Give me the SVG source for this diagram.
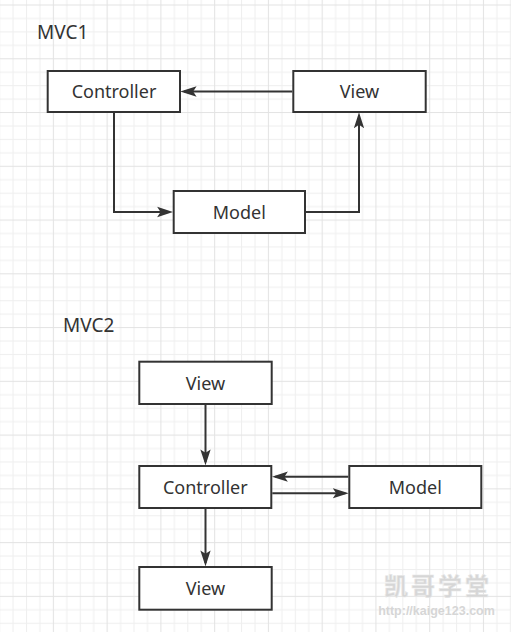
<svg xmlns="http://www.w3.org/2000/svg" width="511" height="632" viewBox="0 0 511 632">
  <defs>
    <pattern id="grid" patternUnits="userSpaceOnUse" x="-0.9" y="4.5" width="53.76" height="53.76">
      <rect x="0" y="0" width="53.76" height="53.76" fill="#ffffff"/>
      <g fill="#efefef">
        <rect x="13.44" y="0" width="1" height="53.76"/>
        <rect x="26.88" y="0" width="1" height="53.76"/>
        <rect x="40.32" y="0" width="1" height="53.76"/>
        <rect x="0" y="13.44" width="53.76" height="1"/>
        <rect x="0" y="26.88" width="53.76" height="1"/>
        <rect x="0" y="40.32" width="53.76" height="1"/>
      </g>
      <g fill="#e3e3e3">
        <rect x="0" y="0" width="1" height="53.76"/>
        <rect x="0" y="0" width="53.76" height="1"/>
      </g>
    </pattern>
    <marker id="arrow" markerUnits="userSpaceOnUse" markerWidth="16" markerHeight="12" viewBox="0 0 14 10" refX="11" refY="5" orient="auto">
      <path d="M0,0.5 L14,5 L0,9.5 L3,5 Z" fill="#333333"/>
    </marker>
    <style>
      .node rect { fill: #ffffff; stroke: #333333; stroke-width: 2; }
      .node text { font-family: "Noto Sans", "Open Sans", "Liberation Sans", sans-serif; font-size: 18px; fill: #333333; text-anchor: middle; }
      .title { font-family: "Noto Sans", "Open Sans", "Liberation Sans", sans-serif; font-size: 19px; fill: #333333; }
      .edge { fill: none; stroke: #333333; stroke-width: 2; marker-end: url(#arrow); }
    </style>
  </defs>

  <rect x="0" y="0" width="511" height="632" fill="url(#grid)"/>

  <text class="title" x="37" y="39">MVC1</text>
  <text class="title" x="63" y="332">MVC2</text>

  <g id="connectors">
    <!-- MVC1 -->
    <path class="edge" d="M292.3,91.5 L184,91.5"/>
    <path class="edge" d="M114,112.7 L114,212 L169.7,212"/>
    <path class="edge" d="M306,212 L359,212 L359,115.7"/>
    <!-- MVC2 -->
    <path class="edge" d="M205.5,405 L205.5,462"/>
    <path class="edge" d="M205.5,509 L205.5,563"/>
    <path class="edge" d="M348.3,476.7 L275.3,476.7"/>
    <path class="edge" d="M272.3,493.3 L345.3,493.3"/>
  </g>

  <g id="mvc1-controller" class="node">
    <rect x="47.7" y="71" width="132.3" height="41"/>
    <text x="114" y="98.3">Controller</text>
  </g>
  <g id="mvc1-view" class="node">
    <rect x="293.3" y="71" width="132.4" height="41"/>
    <text x="359.5" y="98.3">View</text>
  </g>
  <g id="mvc1-model" class="node">
    <rect x="173.7" y="191" width="131.3" height="42"/>
    <text x="239.3" y="218.5">Model</text>
  </g>

  <g id="mvc2-view-top" class="node">
    <rect x="139.3" y="361.7" width="132.4" height="42.3"/>
    <text x="205.5" y="389.5">View</text>
  </g>
  <g id="mvc2-controller" class="node">
    <rect x="139.3" y="466" width="132" height="42"/>
    <text x="205.3" y="493.5">Controller</text>
  </g>
  <g id="mvc2-model" class="node">
    <rect x="349.3" y="466" width="132" height="42"/>
    <text x="415.3" y="493.5">Model</text>
  </g>
  <g id="mvc2-view-bottom" class="node">
    <rect x="139.3" y="567" width="132.4" height="42.7"/>
    <text x="205.5" y="594.8">View</text>
  </g>

  <g id="watermark">
    <text x="384" y="595" font-family="Noto Sans CJK SC, sans-serif" font-size="24" font-weight="bold" letter-spacing="3" fill="#d6d6d6" stroke="#e8e8e8" stroke-width="0.6">凯哥学堂</text>
    <text x="436.5" y="615" font-family="Liberation Sans, Arial, sans-serif" font-size="12.5" font-weight="bold" text-anchor="middle" fill="#d6d6d6">http://kaige123.com</text>
  </g>
</svg>
